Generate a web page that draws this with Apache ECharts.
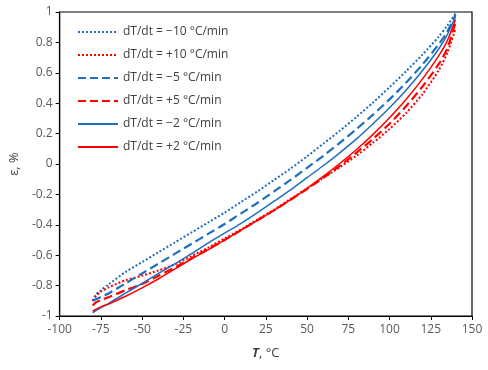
<!DOCTYPE html>
<html>
<head>
<meta charset="utf-8">
<script src="https://cdn.jsdelivr.net/npm/echarts@6/dist/echarts.min.js"></script>
<style>
  html, body { margin: 0; padding: 0; background: #fff; }
  #chart { width: 488px; height: 370px; }
</style>
</head>
<body>
<div id="chart"></div>
<script>
// temperatures, °C
const temps = [-80, -78, -75, -70, -60, -50, -40, -30, -20, -10, 0, 10, 20, 30, 40, 50, 60, 70, 80, 90, 100, 110, 120, 130, 135, 140];

// strain, %
const cool10 = [-0.90, -0.86, -0.83, -0.79, -0.71, -0.645, -0.58, -0.515, -0.45, -0.385, -0.32, -0.25, -0.18, -0.105, -0.03, 0.05, 0.135, 0.22, 0.31, 0.405, 0.505, 0.61, 0.72, 0.84, 0.91, 0.99];
const heat10 = [-0.90, -0.87, -0.84, -0.81, -0.765, -0.735, -0.70, -0.66, -0.605, -0.55, -0.49, -0.43, -0.365, -0.30, -0.23, -0.16, -0.09, -0.02, 0.055, 0.14, 0.23, 0.335, 0.46, 0.62, 0.73, 0.89];
const cool5 = [-0.90, -0.89, -0.875, -0.85, -0.785, -0.72, -0.655, -0.59, -0.525, -0.46, -0.395, -0.325, -0.255, -0.18, -0.105, -0.025, 0.055, 0.14, 0.23, 0.325, 0.425, 0.535, 0.655, 0.79, 0.87, 0.98];
const heat5 = [-0.93, -0.91, -0.895, -0.875, -0.83, -0.79, -0.735, -0.68, -0.62, -0.56, -0.50, -0.435, -0.37, -0.305, -0.235, -0.165, -0.09, -0.01, 0.075, 0.165, 0.265, 0.38, 0.51, 0.66, 0.76, 0.93];
const cool2 = [-0.98, -0.965, -0.945, -0.915, -0.85, -0.785, -0.72, -0.655, -0.59, -0.52, -0.455, -0.39, -0.32, -0.245, -0.17, -0.09, -0.01, 0.075, 0.165, 0.265, 0.37, 0.485, 0.615, 0.76, 0.85, 0.97];
const heat2 = [-0.97, -0.955, -0.94, -0.92, -0.87, -0.815, -0.755, -0.69, -0.625, -0.565, -0.50, -0.435, -0.37, -0.305, -0.235, -0.16, -0.08, 0.005, 0.095, 0.195, 0.305, 0.425, 0.56, 0.715, 0.81, 0.95];

const names = ['dT/dt = \u221210 \u00b0C/min', 'dT/dt = +10 \u00b0C/min', 'dT/dt = \u22125 \u00b0C/min',
  'dT/dt = +5 \u00b0C/min', 'dT/dt = \u22122 \u00b0C/min', 'dT/dt = +2 \u00b0C/min'];

const blue = '#1f6fc0';
const red = '#ff0000';

function pairs(ys) {
  return temps.map((t, i) => [t, ys[i]]);
}

function mkSeries(name, ys, color, type, width) {
  return {
    name: name,
    type: 'line',
    data: pairs(ys),
    symbol: 'none',
    smooth: 0.25,
    itemStyle: { color: color },
    lineStyle: { color: color, type: type, width: width },
  };
}

const chart = echarts.init(document.getElementById('chart'));
chart.setOption({
  animation: false,
  textStyle: { fontFamily: 'Open Sans' },
  grid: {
    left: 58, right: 16, top: 12, bottom: 54,
    show: true, borderColor: '#000', borderWidth: 1.2,
  },
  legend: {
    orient: 'vertical',
    left: 72,
    top: 21,
    itemWidth: 40,
    itemHeight: 12,
    itemGap: 11,
    itemStyle: { opacity: 0 },
    textStyle: { fontSize: 12, color: '#404040' },
    data: names,
  },
  xAxis: {
    type: 'value',
    min: -100, max: 150, interval: 25,
    name: '{b|T}, \u00b0C',
    nameLocation: 'middle',
    nameGap: 31,
    nameTextStyle: {
      fontSize: 13, color: '#404040',
      rich: { b: { fontWeight: 'bold', fontStyle: 'italic', fontSize: 13, color: '#404040' } },
    },
    axisLine: { onZero: false, lineStyle: { color: '#000', width: 1.2 } },
    axisTick: { inside: false, length: 4, lineStyle: { color: '#000' } },
    axisLabel: { color: '#595959', fontSize: 12, margin: 8 },
    splitLine: { show: false },
  },
  yAxis: {
    type: 'value',
    min: -1, max: 1, interval: 0.2,
    name: '\u03b5, %',
    nameLocation: 'middle',
    nameGap: 28,
    nameTextStyle: { fontSize: 13, color: '#404040' },
    axisLine: { show: true, onZero: false, lineStyle: { color: '#000', width: 1.2 } },
    axisTick: { show: true, inside: false, length: 4, lineStyle: { color: '#000' } },
    axisLabel: {
      color: '#595959', fontSize: 12, margin: 7,
      formatter: (v) => String(Math.round(v * 10) / 10),
    },
    splitLine: { show: false },
  },
  series: [
    mkSeries(names[0], cool10, blue, 'dotted', 2),
    mkSeries(names[1], heat10, red, 'dotted', 2),
    mkSeries(names[2], cool5, blue, 'dashed', 2.2),
    mkSeries(names[3], heat5, red, 'dashed', 2.2),
    mkSeries(names[4], cool2, blue, 'solid', 1.5),
    mkSeries(names[5], heat2, red, 'solid', 1.5),
  ],
});
</script>
</body>
</html>
